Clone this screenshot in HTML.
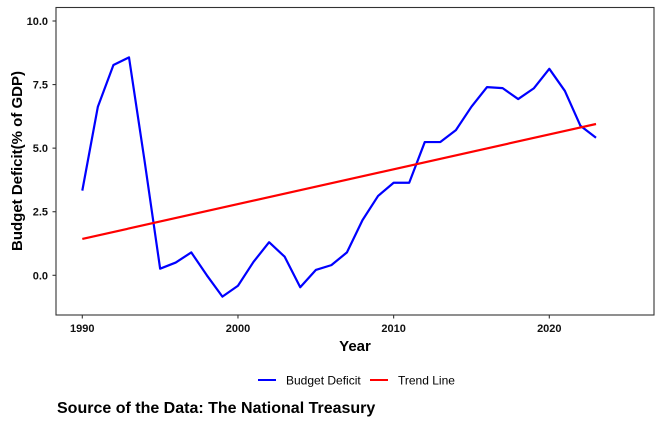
<!DOCTYPE html>
<html><head><meta charset="utf-8"><style>
body{margin:0;background:#fff;}
svg text{font-family:"Liberation Sans",Arial,sans-serif;}
</style></head><body>
<svg id="chart" width="662" height="422" xmlns="http://www.w3.org/2000/svg">
<rect width="662" height="422" fill="#fff"/>
<rect x="56" y="7.5" width="598" height="307.5" fill="none" stroke="#333" stroke-width="1.1"/>
<g id="axes"></g>
<g id="series"></g>
<text x="355" y="351" text-anchor="middle" font-size="15" font-weight="bold">Year</text>
<text transform="translate(22,161) rotate(-90)" text-anchor="middle" font-size="15" font-weight="bold">Budget Deficit(% of GDP)</text>
<g>
<line x1="258" y1="380" x2="276" y2="380" stroke="#0000ff" stroke-width="2"/>
<text x="286" y="384.5" font-size="12">Budget Deficit</text>
<line x1="370" y1="380" x2="388" y2="380" stroke="#ff0000" stroke-width="2"/>
<text x="398" y="384.5" font-size="12">Trend Line</text>
</g>
<text x="57" y="413" font-size="16" font-weight="bold">Source of the Data: The National Treasury</text>
</svg>
<script>
const years=[1990,1991,1992,1993,1994,1995,1996,1997,1998,1999,2000,2001,2002,2003,2004,2005,2006,2007,2008,2009,2010,2011,2012,2013,2014,2015,2016,2017,2018,2019,2020,2021,2022,2023];
const deficit=[3.33,6.63,8.27,8.57,4.5,0.26,0.5,0.9,0.0,-0.84,-0.41,0.53,1.3,0.73,-0.47,0.21,0.4,0.9,2.17,3.12,3.64,3.64,5.24,5.24,5.71,6.63,7.4,7.36,6.93,7.35,8.12,7.25,5.88,5.41];
const trendStart=[1990,1.43];
const trendEnd=[2023,5.95];
const xTicks=[1990,2000,2010,2020];
const yTicks=[0,2.5,5,7.5,10];
const yTickLabels=["0.0","2.5","5.0","7.5","10.0"];
const NS="http://www.w3.org/2000/svg";
function xs(v){return 82.3+(v-1990)*15.567;}
function ys(v){return 275.3-v*25.43;}
const axes=document.getElementById('axes'),series=document.getElementById('series');
function mk(tag,attrs,parent){const e=document.createElementNS(NS,tag);for(const k in attrs)e.setAttribute(k,attrs[k]);parent.appendChild(e);return e;}
xTicks.forEach(t=>{
 const l=mk('line',{x1:xs(t),x2:xs(t),y1:315,y2:318.5,stroke:'#333','stroke-width':1.1},axes);
 
 
 const tx=mk('text',{x:xs(t),y:332,'text-anchor':'middle','font-size':11,'font-weight':'bold',fill:'#111'},axes);
 tx.textContent=t;
 
 
});
yTicks.forEach((t,i)=>{
 const l=mk('line',{x1:52.5,x2:56,y1:ys(t),y2:ys(t),stroke:'#333','stroke-width':1.1},axes);
 
 
 const tx=mk('text',{x:48,y:ys(t)+4,'text-anchor':'end','font-size':11,'font-weight':'bold',fill:'#111'},axes);
 tx.textContent=yTickLabels[i];
 
 
});
const pl=mk('polyline',{points:years.map((y,i)=>xs(y)+','+ys(deficit[i])).join(' '),fill:'none',stroke:'#0000ff','stroke-width':2.2,'stroke-linejoin':'round'},series);


const tl=mk('line',{x1:xs(trendStart[0]),y1:ys(trendStart[1]),x2:xs(trendEnd[0]),y2:ys(trendEnd[1]),stroke:'#ff0000','stroke-width':2.2},series);


</script>
</body></html>
